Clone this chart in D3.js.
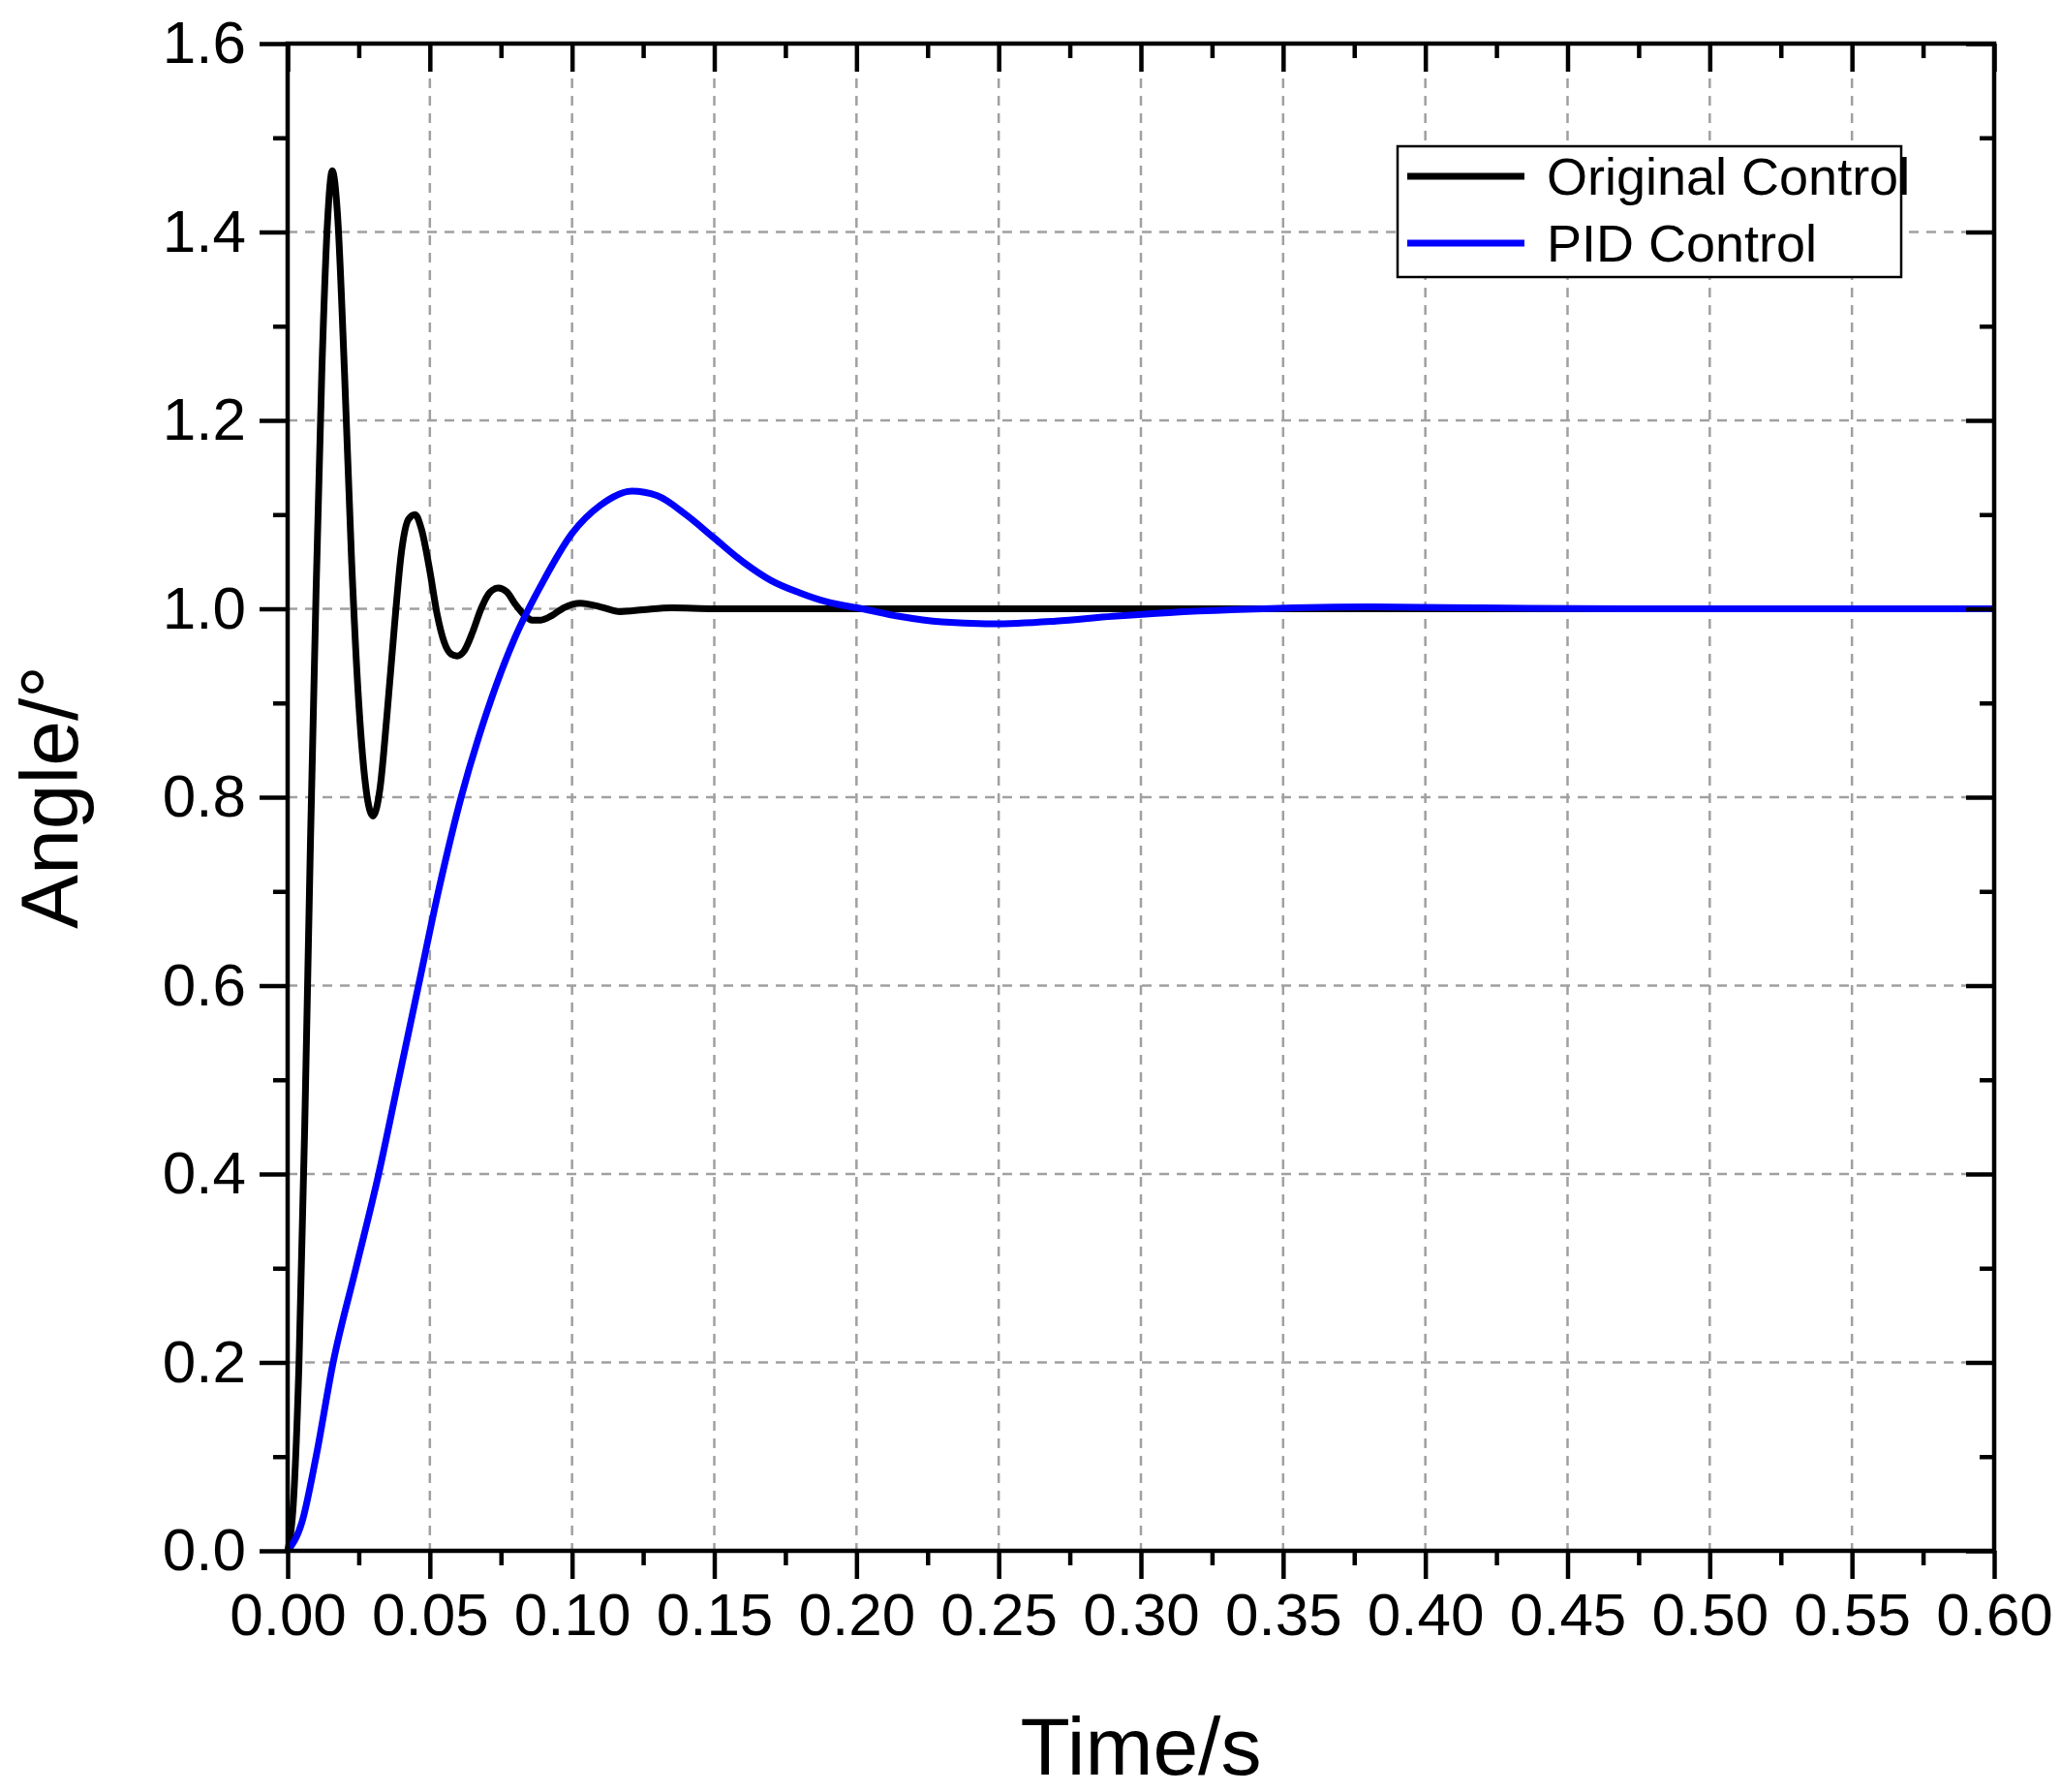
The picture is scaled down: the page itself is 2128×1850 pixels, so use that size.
<!DOCTYPE html>
<html><head><meta charset="utf-8">
<script src="https://cdn.jsdelivr.net/npm/d3@7"></script>
<style>body{margin:0;background:#fff}</style></head>
<body><svg id="c" width="2128" height="1850"></svg>
<script>
const origT=[0,0.002,0.004,0.006,0.008,0.010,0.012,0.014,0.0157,0.0175,0.020,0.0225,0.025,0.0275,0.030,0.0325,0.035,0.0375,0.040,0.0425,0.0448,0.047,0.050,0.0525,0.055,0.0575,0.0596,0.062,0.065,0.068,0.071,0.074,0.077,0.080,0.083,0.086,0.089,0.093,0.097,0.103,0.110,0.117,0.125,0.135,0.15,0.6];
const origY=[0,0.05,0.2,0.45,0.75,1.02,1.25,1.41,1.465,1.42,1.25,1.05,0.9,0.81,0.78,0.81,0.89,0.98,1.06,1.095,1.10,1.085,1.04,0.995,0.965,0.952,0.95,0.955,0.975,1.0,1.017,1.022,1.018,1.005,0.994,0.988,0.988,0.993,1.001,1.006,1.002,0.997,0.999,1.001,1.0,1.0];
const pidT=[0,0.005,0.01,0.016,0.024,0.032,0.039,0.046,0.053,0.061,0.07,0.08,0.09,0.1,0.11,0.121,0.13,0.14,0.15,0.16,0.17,0.18,0.19,0.202,0.215,0.23,0.248,0.27,0.29,0.31,0.343,0.38,0.42,0.47,0.6];
const pidY=[0,0.03,0.1,0.2,0.3,0.4,0.5,0.6,0.7,0.8,0.89,0.97,1.03,1.08,1.11,1.125,1.12,1.1,1.075,1.05,1.03,1.017,1.007,1.0,0.992,0.986,0.984,0.987,0.992,0.996,1.0,1.002,1.001,1.0,1.0];
const xTicks=d3.range(0,0.6001,0.05), yTicks=d3.range(0,1.6001,0.2);
const seriesNames=["Original Control","PID Control"], colors=["#000","#0000ff"];

const L=297,R=2059,T=45,B=1601;
const svg=d3.select("#c");
const x=d3.scaleLinear([0,0.6],[L,R]), y=d3.scaleLinear([0,1.6],[B,T]);
const font="Arial, 'Liberation Sans', sans-serif";
const g=svg.append("g");
// grid
g.selectAll(".gx").data(xTicks.slice(1,-1)).join("line").attr("x1",d=>x(d)).attr("x2",d=>x(d)).attr("y1",T).attr("y2",B)
 .attr("stroke","#a0a0a0").attr("stroke-width",2.5).attr("stroke-dasharray","10,8");
g.selectAll(".gy").data(yTicks.slice(1,-1)).join("line").attr("y1",d=>y(d)).attr("y2",d=>y(d)).attr("x1",L).attr("x2",R)
 .attr("stroke","#a0a0a0").attr("stroke-width",2.5).attr("stroke-dasharray","10,8");
// curves
const line=d3.line().curve(d3.curveMonotoneX);
[[origT,origY],[pidT,pidY]].forEach(([t,v],i)=>{
  g.append("path").attr("d",line(t.map((d,j)=>[x(d),y(v[j])]))).attr("fill","none").attr("stroke",colors[i]).attr("stroke-width",7).attr("stroke-linejoin","round");
});
// axes
const major=29, minor=15, sw=4.5;
const ax=(sel)=>sel.call(s=>s.select(".domain").remove()).selectAll("line").attr("stroke","#000").attr("stroke-width",sw);
const xMinor=d3.range(0.025,0.6,0.05), yMinor=d3.range(0.1,1.6,0.2);
svg.append("g").attr("transform",`translate(0,${B})`).call(d3.axisBottom(x).tickValues(xTicks).tickSize(major).tickPadding(14).tickFormat(d3.format(".2f"))).call(ax)
 .selectAll("text").attr("font-family",font).attr("font-size",62).attr("fill","#000");
svg.append("g").attr("transform",`translate(0,${B})`).call(d3.axisBottom(x).tickValues(xMinor).tickSize(minor).tickFormat("")).call(ax);
svg.append("g").attr("transform",`translate(0,${T})`).call(d3.axisBottom(x).tickValues(xTicks).tickSize(major).tickFormat("")).call(ax);
svg.append("g").attr("transform",`translate(0,${T})`).call(d3.axisBottom(x).tickValues(xMinor).tickSize(minor).tickFormat("")).call(ax);
svg.append("g").attr("transform",`translate(${L},0)`).call(d3.axisLeft(y).tickValues(yTicks).tickSize(major).tickPadding(14).tickFormat(d3.format(".1f"))).call(ax)
 .selectAll("text").attr("font-family",font).attr("font-size",62).attr("fill","#000");
svg.append("g").attr("transform",`translate(${L},0)`).call(d3.axisLeft(y).tickValues(yMinor).tickSize(minor).tickFormat("")).call(ax);
svg.append("g").attr("transform",`translate(${R},0)`).call(d3.axisLeft(y).tickValues(yTicks).tickSize(major).tickFormat("")).call(ax);
svg.append("g").attr("transform",`translate(${R},0)`).call(d3.axisLeft(y).tickValues(yMinor).tickSize(minor).tickFormat("")).call(ax);
svg.append("rect").attr("x",L).attr("y",T).attr("width",R-L).attr("height",B-T).attr("fill","none").attr("stroke","#000").attr("stroke-width",sw);
// titles
svg.append("text").attr("x",(L+R)/2).attr("y",1832).attr("text-anchor","middle").attr("font-family",font).attr("font-size",84).text("Time/s");
svg.append("text").attr("transform",`translate(80,${(T+B)/2}) rotate(-90)`).attr("text-anchor","middle").attr("font-family",font).attr("font-size",84).text("Angle/°");
// legend
const lg=svg.append("g");
lg.append("rect").attr("x",1443).attr("y",151).attr("width",520).attr("height",135).attr("fill","#fff").attr("stroke","#000").attr("stroke-width",2.5);
seriesNames.forEach((n,i)=>{
  const yy=182+i*69;
  lg.append("line").attr("x1",1453).attr("x2",1574).attr("y1",yy).attr("y2",yy).attr("stroke",colors[i]).attr("stroke-width",7);
  lg.append("text").attr("x",1597).attr("y",yy+19).attr("font-family",font).attr("font-size",54).text(n);
});
</script></body></html>
